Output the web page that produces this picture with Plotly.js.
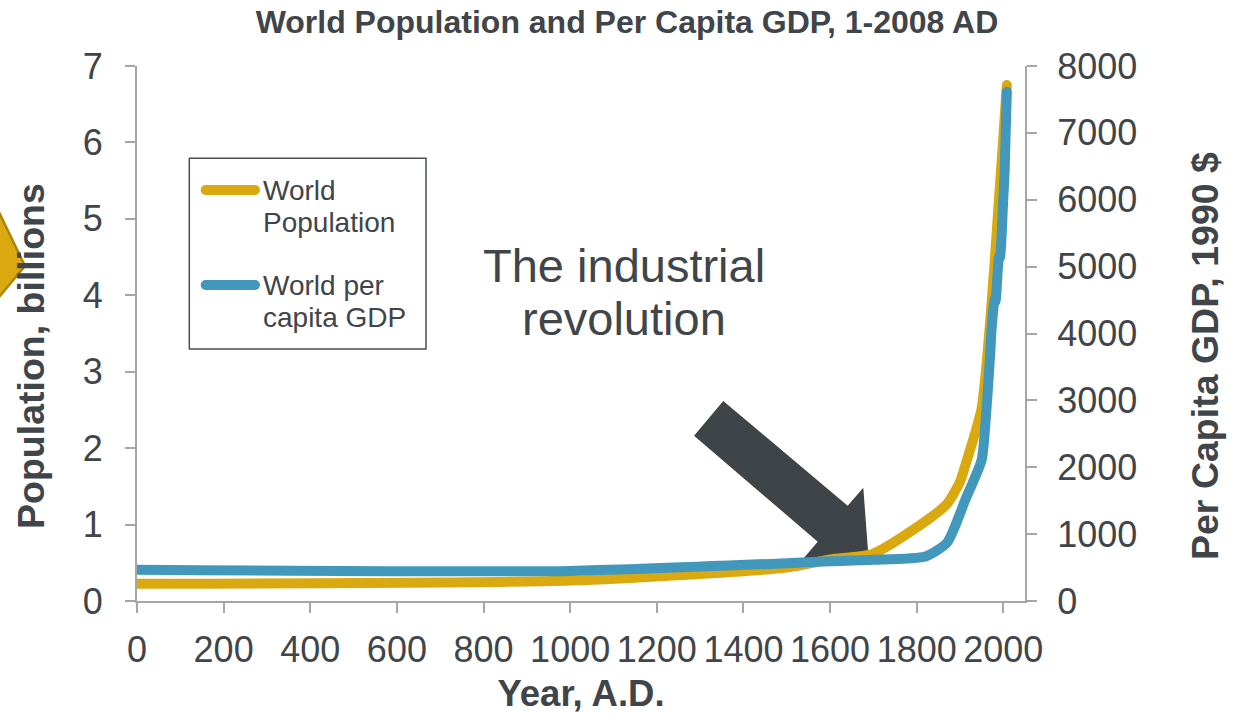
<!DOCTYPE html>
<html>
<head>
<meta charset="utf-8">
<script src="https://cdn.plot.ly/plotly-3.0.1.min.js"></script>
<style>
  html, body { margin: 0; padding: 0; background: #ffffff; }
  #chart { width: 1237px; height: 714px; }
  .scatterlayer .js-line, .shapelayer path { stroke-linecap: round; stroke-linejoin: round; }
</style>
</head>
<body>
<div id="chart"></div>
<script>
// World population (billions)
const popYears = [1, 1000, 1500, 1600, 1700, 1820, 1870, 1900, 1913, 1940, 1950, 1960, 1970, 1980, 1990, 2000, 2008];
const popBillions = [0.226, 0.267, 0.438, 0.545, 0.62, 1.041, 1.272, 1.56, 1.791, 2.3, 2.525, 3.02, 3.69, 4.44, 5.27, 6.07, 6.75];

// World per capita GDP (1990 international $)
const gdpYears = [1, 1000, 1500, 1600, 1700, 1820, 1870, 1913, 1950, 1960, 1970, 1973, 1980, 1982, 1990, 1992, 2000, 2003, 2008];
const gdpPerCapita = [467, 450, 566, 596, 616, 667, 873, 1526, 2113, 2777, 3729, 4083, 4512, 4480, 5150, 5130, 6038, 6432, 7614];

const xTicks = [0, 200, 400, 600, 800, 1000, 1200, 1400, 1600, 1800, 2000];
const popTicks = [0, 1, 2, 3, 4, 5, 6, 7];
const gdpTicks = [0, 1000, 2000, 3000, 4000, 5000, 6000, 7000, 8000];

const popLabel = ['World', 'Population'];
const gdpLabel = ['World per', 'capita GDP'];

const FONT = 'Liberation Sans, Arial, sans-serif';
const INK = '#3F4549';
const AXIS = '#A6A6A6';
const GOLD = '#D9A90F';
const BLUE = '#4198BC';

// plot area in page pixels
const W = 1237, H = 714;
const L = 137, R = 1025, T = 66, B = 601;
const px = x => (x - L) / (R - L);
const py = y => (B - y) / (B - T);
const pathFrom = pts => pts.map((p, i) => (i ? 'L' : 'M') + px(p[0]).toFixed(4) + ',' + py(p[1]).toFixed(4)).join(' ') + ' Z';

const traces = [
  {
    x: popYears, y: popBillions, name: popLabel.join(' '), yaxis: 'y',
    mode: 'lines', line: {color: GOLD, width: 10, shape: 'spline', smoothing: 0.6}
  },
  {
    x: gdpYears, y: gdpPerCapita, name: gdpLabel.join(' '), yaxis: 'y2',
    mode: 'lines', line: {color: BLUE, width: 10, shape: 'spline', smoothing: 0.6}
  }
];

const tickFont = {family: FONT, size: 36, color: INK};
const yTitleFont = {family: FONT, size: 37.5, color: INK, weight: 'bold'};

// boxed key in the upper left of the plot
const legendBox = {type: 'rect', xref: 'paper', yref: 'paper', layer: 'above',
  x0: px(189.3), x1: px(426), y0: py(158.3), y1: py(349),
  fillcolor: 'rgba(0,0,0,0)', line: {color: '#4A4F53', width: 1.5}};
const keyLine = (yPix, color) => ({type: 'line', xref: 'paper', yref: 'paper', layer: 'above',
  x0: px(205.7), x1: px(255), y0: py(yPix), y1: py(yPix), line: {color: color, width: 10}});
const keyText = (text, yPix) => ({xref: 'paper', yref: 'paper', x: px(261), y: py(yPix),
  xanchor: 'left', yanchor: 'middle', text: text, showarrow: false,
  font: {family: FONT, size: 28, color: INK}});
// vertical axis titles, set a little below the middle of the axes
const sideTitle = (text, xPix) => ({xref: 'paper', yref: 'paper', x: px(xPix), y: py(356),
  xanchor: 'center', yanchor: 'middle', textangle: -90, text: text, showarrow: false,
  font: yTitleFont});

const layout = {
  width: W, height: H,
  margin: {l: L, r: W - R, t: T, b: H - B},
  paper_bgcolor: '#ffffff', plot_bgcolor: '#ffffff',
  showlegend: false,
  hovermode: false,
  title: {
    text: 'World Population and Per Capita GDP, 1-2008 AD',
    font: {family: FONT, size: 32, color: INK, weight: 'bold'},
    x: 627 / W, xanchor: 'center', y: 1 - 22 / H, yanchor: 'middle'
  },
  xaxis: {
    range: [0, 2050], tickvals: xTicks, ticktext: xTicks.map(String),
    showline: true, linecolor: AXIS, linewidth: 2,
    ticks: 'outside', ticklen: 10, tickwidth: 2, tickcolor: AXIS,
    showgrid: false, zeroline: false, tickfont: tickFont, ticklabelstandoff: 6,
    title: {text: 'Year, A.D.', font: {family: FONT, size: 36.5, color: INK, weight: 'bold'}, standoff: 18}
  },
  yaxis: {
    range: [0, 7], tickvals: popTicks,
    showline: true, linecolor: AXIS, linewidth: 2,
    ticks: 'outside', ticklen: 10, tickwidth: 2, tickcolor: AXIS,
    showgrid: false, zeroline: false, tickfont: tickFont, ticklabelstandoff: 15
  },
  yaxis2: {
    range: [0, 8000], tickvals: gdpTicks, overlaying: 'y', side: 'right',
    showline: true, linecolor: AXIS, linewidth: 2,
    ticks: 'outside', ticklen: 10, tickwidth: 2, tickcolor: AXIS,
    showgrid: false, zeroline: false, tickfont: tickFont, ticklabelstandoff: 13
  },
  annotations: [
    sideTitle('Population, billions', 31),
    sideTitle('Per Capita GDP, 1990 $', 1205),
    {xref: 'paper', yref: 'paper', x: px(624), y: py(265), xanchor: 'center', yanchor: 'middle',
     text: 'The industrial', showarrow: false, font: {family: FONT, size: 47, color: INK}},
    {xref: 'paper', yref: 'paper', x: px(624), y: py(318), xanchor: 'center', yanchor: 'middle',
     text: 'revolution', showarrow: false, font: {family: FONT, size: 47, color: INK}},
    keyText(popLabel[0], 190.7),
    keyText(popLabel[1], 222.3),
    keyText(gdpLabel[0], 285.7),
    keyText(gdpLabel[1], 317.3)
  ],
  shapes: [
    // block arrow pointing at the take-off of the curves
    {type: 'path', xref: 'paper', yref: 'paper', layer: 'below',
     path: pathFrom([[723.3, 401], [847.7, 505.7], [863.3, 487.7], [868.3, 554], [802.7, 559.3], [817.7, 541.7], [694, 435.7]]),
     fillcolor: '#3F4448', line: {width: 0}},
    // chevron at the left edge
    {type: 'path', xref: 'paper', yref: 'paper', layer: 'above',
     path: pathFrom([[-6, 202], [25, 266], [-6, 303]]),
     fillcolor: GOLD, line: {color: '#A8850C', width: 2.5}},
    legendBox,
    keyLine(190, GOLD),
    keyLine(285, BLUE)
  ]
};

Plotly.newPlot('chart', traces, layout, {staticPlot: true, displayModeBar: false});
</script>
</body>
</html>
